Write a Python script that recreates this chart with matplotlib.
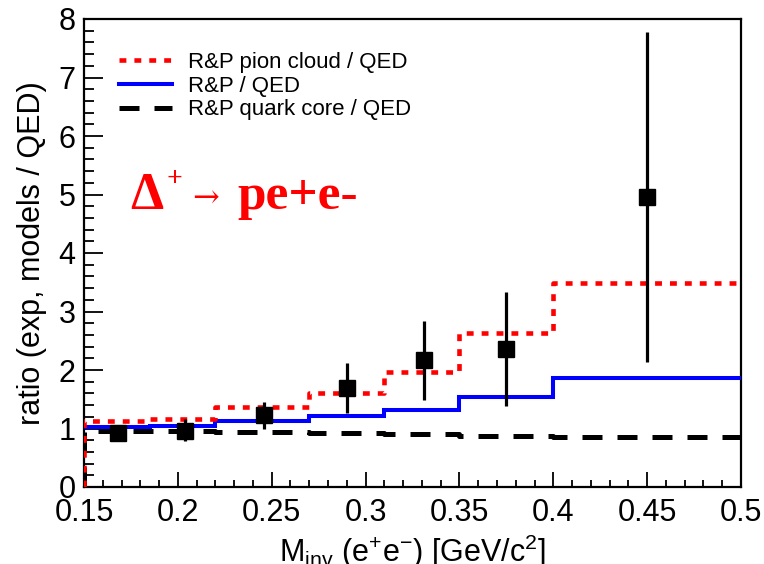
import numpy as np
import matplotlib
matplotlib.use("Agg")
import matplotlib.pyplot as plt

# ---- data ----
bin_edges = [0.15, 0.185, 0.22, 0.27, 0.31, 0.35, 0.40, 0.50]
pion_cloud = [1.12, 1.17, 1.36, 1.61, 1.96, 2.63, 3.48]
rp_total = [1.02, 1.04, 1.12, 1.21, 1.32, 1.53, 1.87]
quark_core = [0.95, 0.95, 0.94, 0.93, 0.91, 0.88, 0.86]

exp_x = [0.168, 0.204, 0.246, 0.290, 0.331, 0.375, 0.450]
exp_y = [0.92, 0.96, 1.23, 1.69, 2.17, 2.36, 4.96]
exp_lo = [0.80, 0.78, 1.00, 1.26, 1.49, 1.38, 2.14]
exp_hi = [1.02, 1.16, 1.46, 2.12, 2.84, 3.33, 7.78]

legend_labels = ["R&P pion cloud / QED", "R&P / QED", "R&P quark core / QED"]
x_ticks = [0.15, 0.2, 0.25, 0.3, 0.35, 0.4, 0.45, 0.5]
x_ticklabels = ["0.15", "0.2", "0.25", "0.3", "0.35", "0.4", "0.45", "0.5"]
y_ticks = [0, 1, 2, 3, 4, 5, 6, 7, 8]

plt.rcParams['font.family'] = ['Liberation Sans', 'DejaVu Sans']
plt.rcParams['mathtext.fontset'] = 'custom'
plt.rcParams['mathtext.rm'] = 'Liberation Sans'
plt.rcParams['mathtext.it'] = 'Liberation Sans:italic'
plt.rcParams['mathtext.bf'] = 'Liberation Sans:bold'

W, H = 764, 564
fig = plt.figure(figsize=(W / 100, H / 100), dpi=100)
ax = fig.add_axes([84 / W, 1 - 487 / H, (741 - 84) / W, (487 - 19) / H])


def hist_path(edges, vals):
    xs = [edges[0]]
    ys = [0.0]
    for i, v in enumerate(vals):
        xs += [edges[i], edges[i + 1]]
        ys += [v, v]
    return xs, ys


xs, ys = hist_path(bin_edges, quark_core)
l3, = ax.plot(xs, ys, color='black', lw=3.6, dashes=(4.0, 3.0),
              dash_capstyle='butt', solid_joinstyle='miter', label=legend_labels[2], zorder=3)
xs, ys = hist_path(bin_edges, rp_total)
l2, = ax.plot(xs[1:], ys[1:], color='#0000ff', lw=2.9, solid_joinstyle='miter',
              label=legend_labels[1], zorder=3)
xs, ys = hist_path(bin_edges, pion_cloud)
l1, = ax.plot(xs, ys, color='#ff0000', lw=3.3, dashes=(1.5, 1.75),
              dash_capstyle='butt', label=legend_labels[0], zorder=4)

yerr = [np.array(exp_y) - np.array(exp_lo), np.array(exp_hi) - np.array(exp_y)]
ax.errorbar(exp_x, exp_y, yerr=yerr, fmt='s', color='black', ms=12,
            elinewidth=2.3, capsize=0, zorder=5)

ax.set_xlim(0.15, 0.5)
ax.set_ylim(0, 8)
ax.set_xticks(x_ticks)
ax.set_xticklabels(x_ticklabels)
ax.set_yticks(y_ticks)
ax.set_xticks(np.arange(0.15, 0.5001, 0.01), minor=True)
ax.set_yticks(np.arange(0, 8.001, 0.2), minor=True)
ax.tick_params(axis='both', which='both', direction='in', top=False, right=False,
               labelsize=22, width=1.3)
ax.tick_params(axis='x', which='major', length=11, pad=8)
ax.tick_params(axis='x', which='minor', length=5)
ax.tick_params(axis='y', which='major', length=14, pad=6)
ax.tick_params(axis='y', which='minor', length=7)
for s in ax.spines.values():
    s.set_linewidth(1.6)

ax.set_xlabel(r'M$_{\mathrm{inv}}$ (e$^{+}$e$^{-}$) [GeV/c$^{2}$]', fontsize=22, labelpad=3)
ax.set_ylabel('ratio (exp, models / QED)', fontsize=22, labelpad=8)

leg = ax.legend(handles=[l1, l2, l3], loc='upper left',
                bbox_to_anchor=(119 / W, 1 - 52 / H), bbox_transform=fig.transFigure,
                fontsize=16, frameon=False, handlelength=2.4, handletextpad=0.7,
                labelspacing=0.12, borderaxespad=0, borderpad=0)

# reaction label
serif = ['Liberation Serif', 'DejaVu Serif']
fig.text(130 / W, 1 - 209 / H, 'Δ', color='#ff0000', fontsize=38, fontweight='bold',
         family=serif, va='baseline', ha='left')
fig.text(167 / W, 1 - 186 / H, '+', color='#ff0000', fontsize=20, fontweight='bold',
         family=serif, va='baseline', ha='left')
fig.text(192 / W, 1 - 199 / H, '→', color='#ff0000', fontsize=23,
         family=['DejaVu Serif'], va='center', ha='left')
fig.text(237 / W, 1 - 209 / H, 'pe+e-', color='#ff0000', fontsize=37, fontweight='bold',
         family=serif, va='baseline', ha='left')

fig.savefig('out.png', dpi=100)
